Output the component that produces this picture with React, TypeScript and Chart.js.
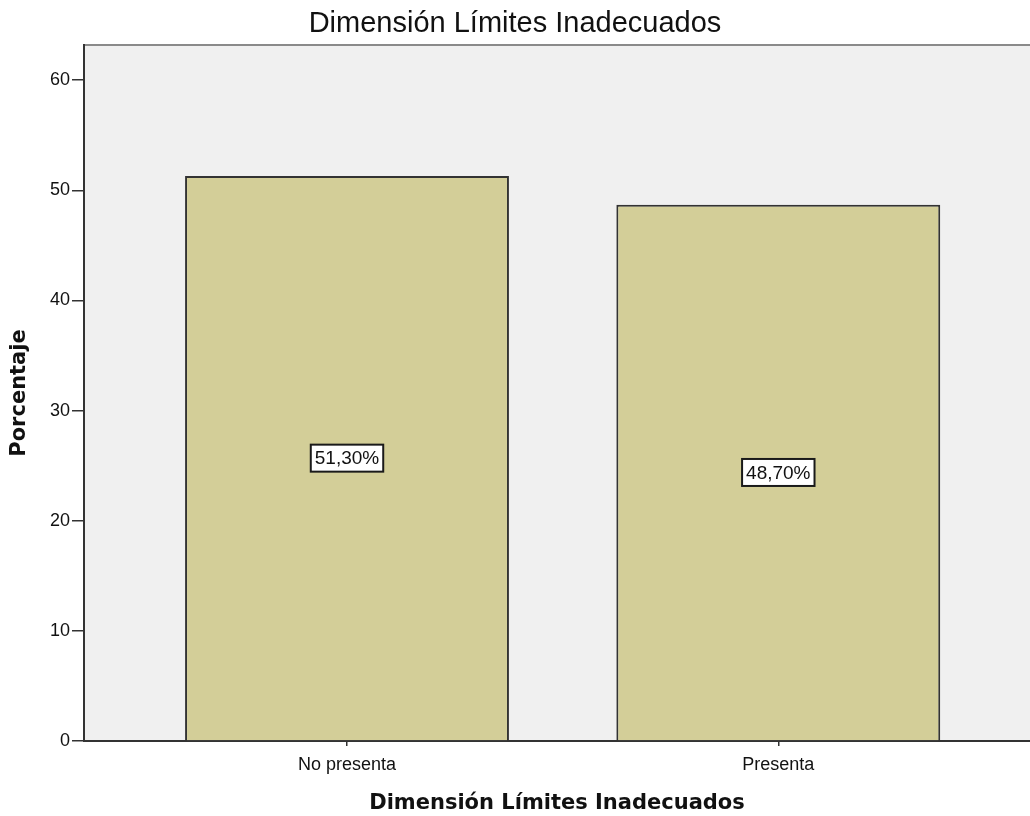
import React, { useEffect, useRef } from 'react';
import { Chart, registerables } from 'chart.js';

Chart.register(...registerables);

const categories: string[] = ['No presenta', 'Presenta'];
const percentages: number[] = [51.3, 48.7];
const yTickValues: number[] = [0, 10, 20, 30, 40, 50, 60];
const chartTitle = 'Dimensión Límites Inadecuados';
const xAxisTitle = 'Dimensión Límites Inadecuados';
const yAxisTitle = 'Porcentaje';

const plotBgPlugin = {
  id: 'plotBg',
  beforeDraw(chart: any) {
    const { ctx, chartArea } = chart;
    const { left, top, right, bottom } = chartArea;
    ctx.save();
    ctx.fillStyle = '#f0f0f0';
    ctx.fillRect(left, top, right - left, bottom - top);
    ctx.strokeStyle = '#8a8a8a';
    ctx.lineWidth = 2;
    ctx.beginPath();
    ctx.moveTo(left, top);
    ctx.lineTo(right, top);
    ctx.stroke();
    ctx.restore();
  },
};

const valueLabelPlugin = {
  id: 'valueLabels',
  afterDatasetsDraw(chart: any) {
    const { ctx } = chart;
    const meta = chart.getDatasetMeta(0);
    ctx.save();
    ctx.font = '19px "Liberation Sans", Arial, sans-serif';
    ctx.textAlign = 'center';
    ctx.textBaseline = 'middle';
    meta.data.forEach((bar: any, i: number) => {
      const text = percentages[i].toFixed(2).replace('.', ',') + '%';
      const cx = bar.x;
      const cy = (bar.y + bar.base) / 2;
      const w = ctx.measureText(text).width + 8;
      const h = 27;
      ctx.fillStyle = '#ffffff';
      ctx.fillRect(cx - w / 2, cy - h / 2, w, h);
      ctx.strokeStyle = '#1a1a1a';
      ctx.lineWidth = 2;
      ctx.strokeRect(cx - w / 2, cy - h / 2, w, h);
      ctx.fillStyle = '#111111';
      ctx.fillText(text, cx, cy + 1);
    });
    ctx.restore();
  },
};

export default function App() {
  const canvasRef = useRef<HTMLCanvasElement | null>(null);

  useEffect(() => {
    if (!canvasRef.current) return;
    const data = categories.map((c, i) => ({ x: i, y: percentages[i] }));
    const chart = new Chart(canvasRef.current, {
      type: 'bar',
      data: {
        datasets: [
          {
            data: data as any,
            backgroundColor: '#d3ce98',
            borderColor: '#333333',
            borderWidth: 2,
            categoryPercentage: 1,
            barPercentage: 0.751,
          },
        ],
      },
      options: {
        responsive: false,
        animation: false,
        layout: { padding: 0 },
        plugins: {
          legend: { display: false },
          tooltip: { enabled: false },
          title: {
            display: true,
            text: chartTitle,
            color: '#111111',
            font: { family: '"Liberation Sans", Arial, sans-serif', size: 29, weight: 'normal' },
            padding: { top: 7, bottom: 3.2 },
          },
        },
        scales: {
          x: {
            type: 'linear',
            offset: false,
            min: -0.6098,
            max: 1.5836,
            afterBuildTicks(scale: any) {
              scale.ticks = categories.map((_, i) => ({ value: i }));
            },
            afterFit(scale: any) {
              scale.height = 75;
            },
            ticks: {
              callback: (v: any) => categories[v] ?? '',
              color: '#111111',
              font: { family: '"Liberation Sans", Arial, sans-serif', size: 18 },
              padding: 8,
              maxRotation: 0,
              autoSkip: false,
              includeBounds: false,
            },
            grid: { offset: false, drawOnChartArea: false, drawTicks: true, tickLength: 5, color: '#333333', lineWidth: 1.5 },
            border: { display: true, color: '#333333', width: 2 },
            title: {
              display: true,
              text: xAxisTitle,
              color: '#111111',
              font: { family: '"DejaVu Sans", sans-serif', size: 21, weight: 'bold' },
              padding: { top: 0, bottom: 0 },
            },
          },
          y: {
            type: 'linear',
            min: 0,
            max: 63.2,
            afterBuildTicks(scale: any) {
              scale.ticks = yTickValues.map((v) => ({ value: v }));
            },
            afterFit(scale: any) {
              scale.width = 84;
            },
            ticks: {
              color: '#111111',
              font: { family: '"Liberation Sans", Arial, sans-serif', size: 18 },
              padding: 2,
              includeBounds: false,
            },
            grid: { drawOnChartArea: false, drawTicks: true, tickLength: 12, color: '#333333', lineWidth: 1.5 },
            border: { display: true, color: '#333333', width: 2 },
            title: {
              display: true,
              text: yAxisTitle,
              color: '#111111',
              font: { family: '"DejaVu Sans", sans-serif', size: 21, weight: 'bold' },
              padding: { top: 7, bottom: 0 },
            },
          },
        },
      } as any,
      plugins: [plotBgPlugin, valueLabelPlugin],
    });
    return () => chart.destroy();
  }, []);

  return (
    <div style={{ position: 'absolute', left: 0, top: 0, width: 1030, height: 816, overflow: 'hidden', background: '#ffffff' }}>
      <canvas ref={canvasRef} width={1030} height={816} style={{ display: 'block' }} />
    </div>
  );
}
